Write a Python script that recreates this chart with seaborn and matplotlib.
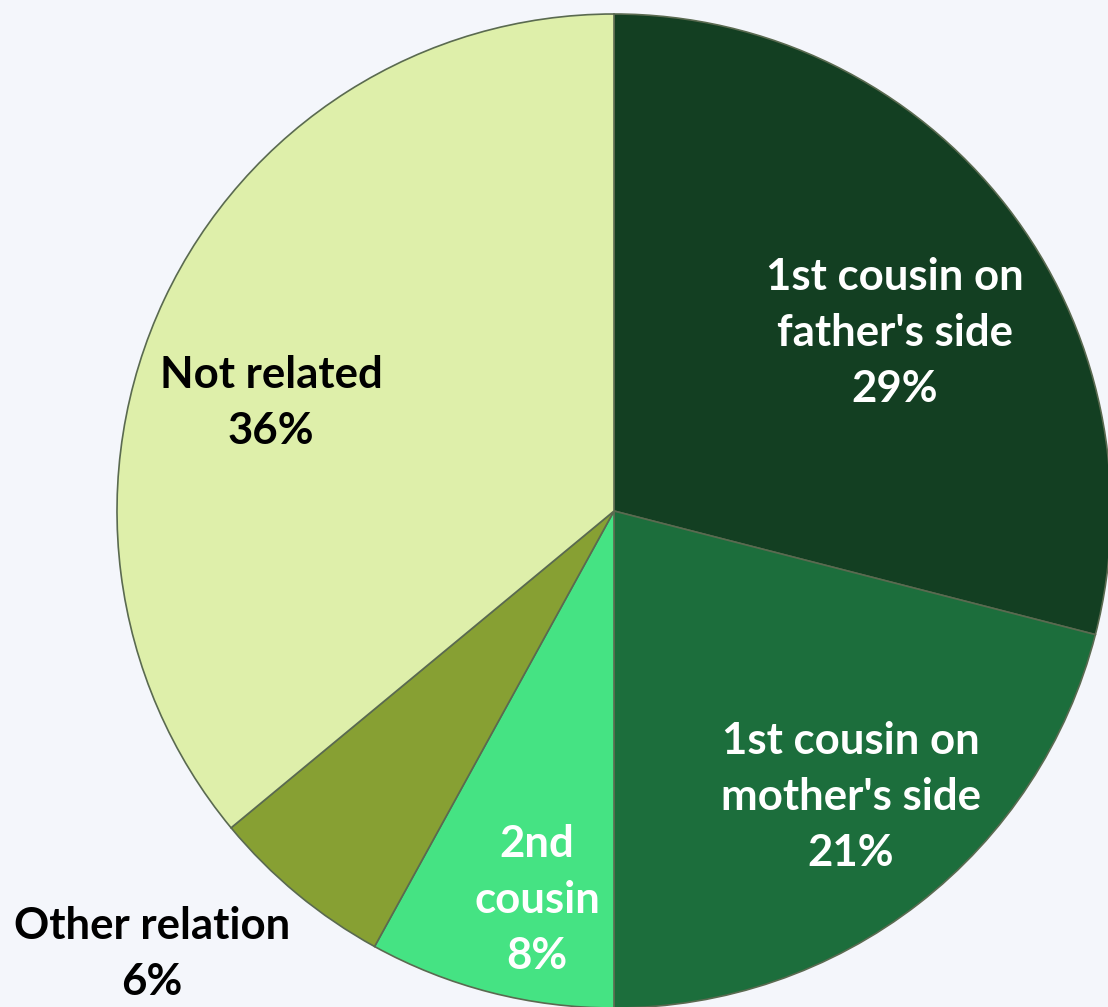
import matplotlib
matplotlib.use("Agg")
import matplotlib.pyplot as plt
import seaborn as sns

# Datos del gráfico
categorias = ["1st cousin on\nfather's side", "1st cousin on\nmother's side",
              "2nd\ncousin", "Other relation", "Not related"]
porcentajes = [29, 21, 8, 6, 36]
colores = ["#133F22", "#1C6E3C", "#45E383", "#87A033", "#DEEFAA"]
color_texto = ["white", "white", "white", "black", "black"]

sns.set_theme(style="white")
plt.rcParams['font.family'] = ['Lato', 'DejaVu Sans']

fondo = "#F4F6FB"
fig = plt.figure(figsize=(11.08, 10.07), dpi=100, facecolor=fondo)
ax = fig.add_axes([0, 0, 1, 1])
ax.set_facecolor(fondo)

# 1 unidad = 1 pixel, centro del pastel en el origen
cx, cy, radio = 614, 511, 497

cunas, _ = ax.pie(porcentajes, colors=colores, startangle=90, counterclock=False,
                  radius=radio, wedgeprops=dict(edgecolor="#5a6a50", linewidth=1.2))

ax.set_xlim(-cx, 1108 - cx)
ax.set_ylim(-(1007 - cy), cy)
ax.set_aspect('equal')
ax.axis('off')

# Posición de cada etiqueta (pixeles, relativos al centro)
pos_etiquetas = [(895 - cx, cy - 333), (851 - cx, cy - 797), (537 - cx, cy - 900),
                 (152 - cx, cy - 954), (271 - cx, cy - 403)]

for nombre, pct, (x, y), col in zip(categorias, porcentajes, pos_etiquetas, color_texto):
    ax.text(x, y, f"{nombre}\n{pct}%", ha='center', va='center', color=col,
            fontsize=31.5, fontweight='bold', linespacing=1.47)

fig.savefig("out.png", dpi=100, facecolor=fondo)
